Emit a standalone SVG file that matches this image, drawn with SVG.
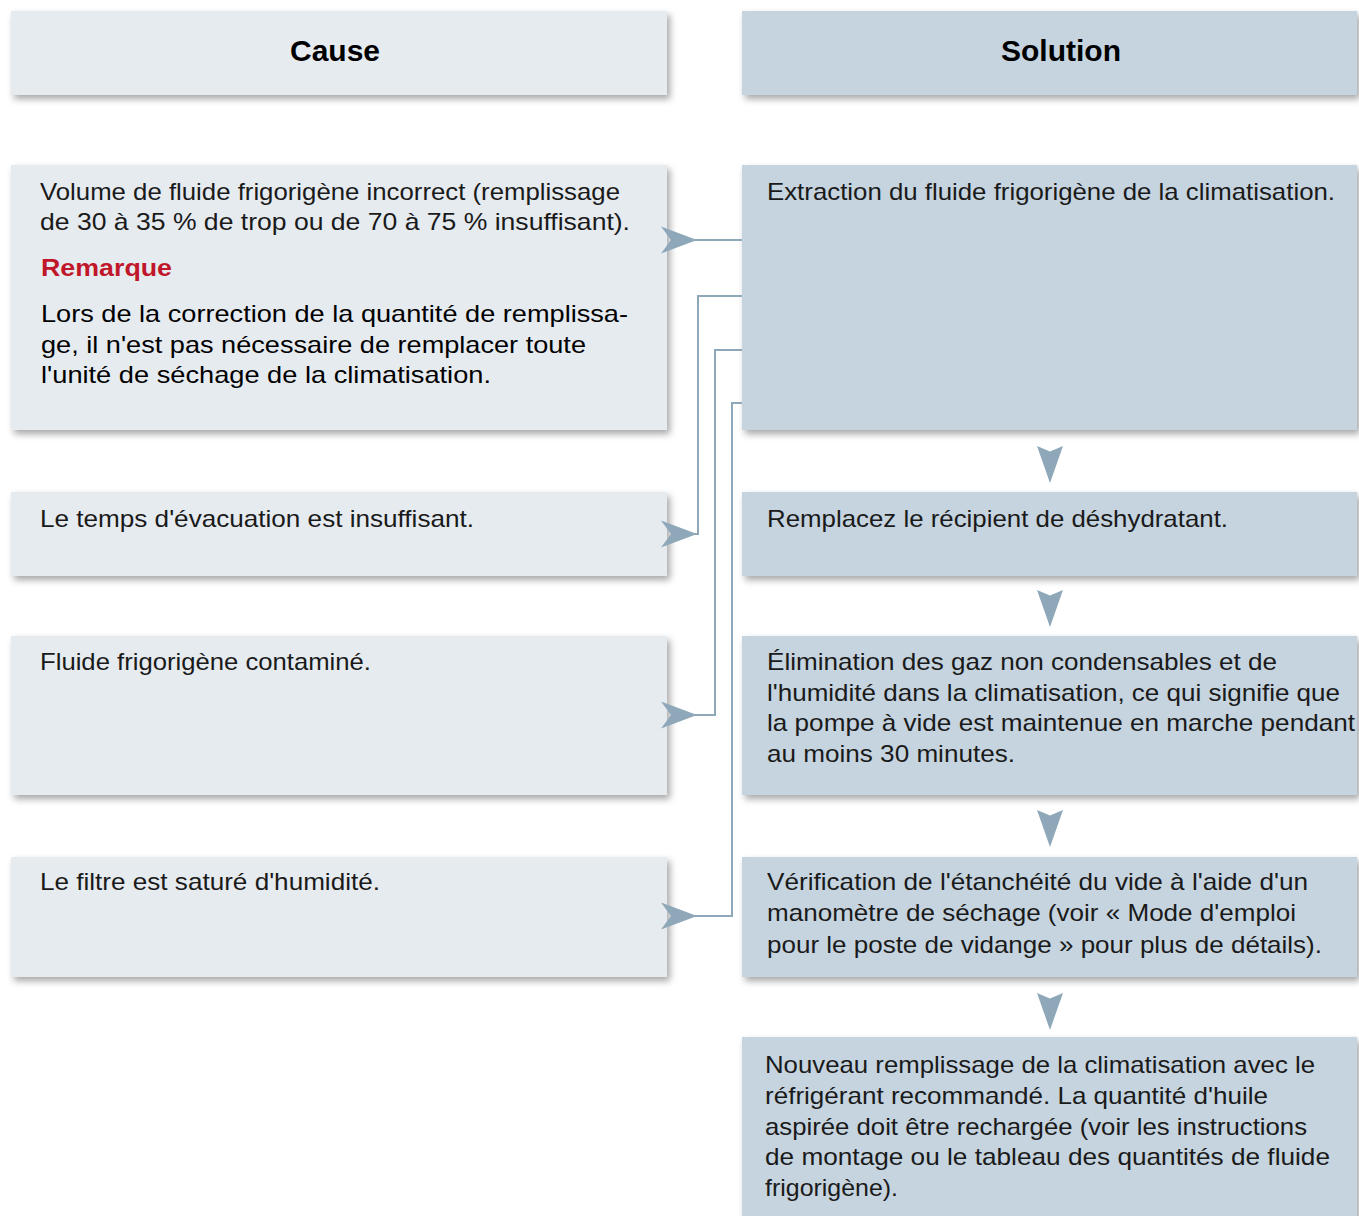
<svg xmlns="http://www.w3.org/2000/svg" width="1359" height="1216" viewBox="0 0 1359 1216">
<defs>
<filter id="sh" x="-5%" y="-20%" width="115%" height="150%">
<feDropShadow dx="3" dy="4" stdDeviation="3.5" flood-color="#000" flood-opacity="0.35"/>
</filter>
<path id="ad" d="M-13,0 L0,5.5 L13,0 L0,37 Z"/>
<path id="ar" d="M0,-13.5 L10,0 L0,13.5 L36,0 Z"/>
</defs>
<style>
.c{fill:#e6ebf0;filter:url(#sh)}
.s{fill:#c5d4df;filter:url(#sh)}
.t{font-family:"Liberation Sans",Arial,sans-serif;font-size:24px;fill:#1a1a1a}
.n{font-family:"Liberation Sans",Arial,sans-serif;font-size:24px;fill:#000}
.h{font-family:"Liberation Sans",Arial,sans-serif;font-size:30px;font-weight:bold;fill:#000;text-anchor:middle}
.r{font-family:"Liberation Sans",Arial,sans-serif;font-size:24px;font-weight:bold;fill:#c0172b}
.ln{fill:none;stroke:#8fa8b9;stroke-width:2}
.ah{fill:#8fa8b9}
</style>
<rect width="1359" height="1216" fill="#fff"/>
<g id="hdr-cause"><rect class="c" x="11" y="11" width="656" height="84"/><text class="h" x="335" y="61">Cause</text></g>
<g id="hdr-solution"><rect class="s" x="742" y="11" width="615" height="84"/><text class="h" x="1061" y="61">Solution</text></g>
<g id="cause1"><rect class="c" x="11" y="165" width="656" height="265"/>
<text class="t" x="40" y="200" textLength="580" lengthAdjust="spacingAndGlyphs">Volume de fluide frigorigène incorrect (remplissage</text>
<text class="t" x="40" y="230" textLength="590" lengthAdjust="spacingAndGlyphs">de 30 à 35 % de trop ou de 70 à 75 % insuffisant).</text>
<text class="r" x="41" y="276" textLength="131" lengthAdjust="spacingAndGlyphs">Remarque</text>
<text class="n" x="41" y="322" textLength="587" lengthAdjust="spacingAndGlyphs">Lors de la correction de la quantité de remplissa-</text>
<text class="n" x="41" y="353" textLength="545" lengthAdjust="spacingAndGlyphs">ge, il n'est pas nécessaire de remplacer toute</text>
<text class="n" x="41" y="383" textLength="450" lengthAdjust="spacingAndGlyphs">l'unité de séchage de la climatisation.</text>
</g>
<g id="cause2"><rect class="c" x="11" y="492" width="656" height="84"/>
<text class="t" x="40" y="527" textLength="434" lengthAdjust="spacingAndGlyphs">Le temps d'évacuation est insuffisant.</text></g>
<g id="cause3"><rect class="c" x="11" y="636" width="656" height="159"/>
<text class="t" x="40" y="670" textLength="331" lengthAdjust="spacingAndGlyphs">Fluide frigorigène contaminé.</text></g>
<g id="cause4"><rect class="c" x="11" y="857" width="656" height="120"/>
<text class="t" x="40" y="890" textLength="340" lengthAdjust="spacingAndGlyphs">Le filtre est saturé d'humidité.</text></g>
<g id="sol1"><rect class="s" x="742" y="165" width="615" height="265"/>
<text class="t" x="767" y="200" textLength="568" lengthAdjust="spacingAndGlyphs">Extraction du fluide frigorigène de la climatisation.</text></g>
<g id="sol2"><rect class="s" x="742" y="492" width="615" height="84"/>
<text class="t" x="767" y="527" textLength="461" lengthAdjust="spacingAndGlyphs">Remplacez le récipient de déshydratant.</text></g>
<g id="sol3"><rect class="s" x="742" y="636" width="615" height="159"/>
<text class="t" x="767" y="670" textLength="510" lengthAdjust="spacingAndGlyphs">Élimination des gaz non condensables et de</text>
<text class="t" x="767" y="701" textLength="573" lengthAdjust="spacingAndGlyphs">l'humidité dans la climatisation, ce qui signifie que</text>
<text class="t" x="767" y="731" textLength="588" lengthAdjust="spacingAndGlyphs">la pompe à vide est maintenue en marche pendant</text>
<text class="t" x="767" y="762" textLength="248" lengthAdjust="spacingAndGlyphs">au moins 30 minutes.</text></g>
<g id="sol4"><rect class="s" x="742" y="857" width="615" height="120"/>
<text class="t" x="767" y="890" textLength="541" lengthAdjust="spacingAndGlyphs">Vérification de l'étanchéité du vide à l'aide d'un</text>
<text class="t" x="767" y="921" textLength="529" lengthAdjust="spacingAndGlyphs">manomètre de séchage (voir « Mode d'emploi</text>
<text class="t" x="767" y="953" textLength="555" lengthAdjust="spacingAndGlyphs">pour le poste de vidange » pour plus de détails).</text></g>
<g id="sol5"><rect class="s" x="742" y="1037" width="615" height="185"/>
<text class="t" x="765" y="1073" textLength="550" lengthAdjust="spacingAndGlyphs">Nouveau remplissage de la climatisation avec le</text>
<text class="t" x="765" y="1104" textLength="503" lengthAdjust="spacingAndGlyphs">réfrigérant recommandé. La quantité d'huile</text>
<text class="t" x="765" y="1135" textLength="542" lengthAdjust="spacingAndGlyphs">aspirée doit être rechargée (voir les instructions</text>
<text class="t" x="765" y="1165" textLength="565" lengthAdjust="spacingAndGlyphs">de montage ou le tableau des quantités de fluide</text>
<text class="t" x="765" y="1196" textLength="133" lengthAdjust="spacingAndGlyphs">frigorigène).</text></g>
<g id="connectors">
<path class="ln" d="M742,240 H690"/>
<path class="ln" d="M742,296 H698 V534 H690"/>
<path class="ln" d="M742,350 H715 V715 H690"/>
<path class="ln" d="M742,403 H732 V916 H690"/>
<use href="#ar" class="ah" x="661" y="240"/>
<use href="#ar" class="ah" x="661" y="534"/>
<use href="#ar" class="ah" x="661" y="715"/>
<use href="#ar" class="ah" x="661" y="916"/>
<use href="#ad" class="ah" x="1050" y="446"/>
<use href="#ad" class="ah" x="1050" y="590"/>
<use href="#ad" class="ah" x="1050" y="810"/>
<use href="#ad" class="ah" x="1050" y="993"/>
</g>
</svg>
